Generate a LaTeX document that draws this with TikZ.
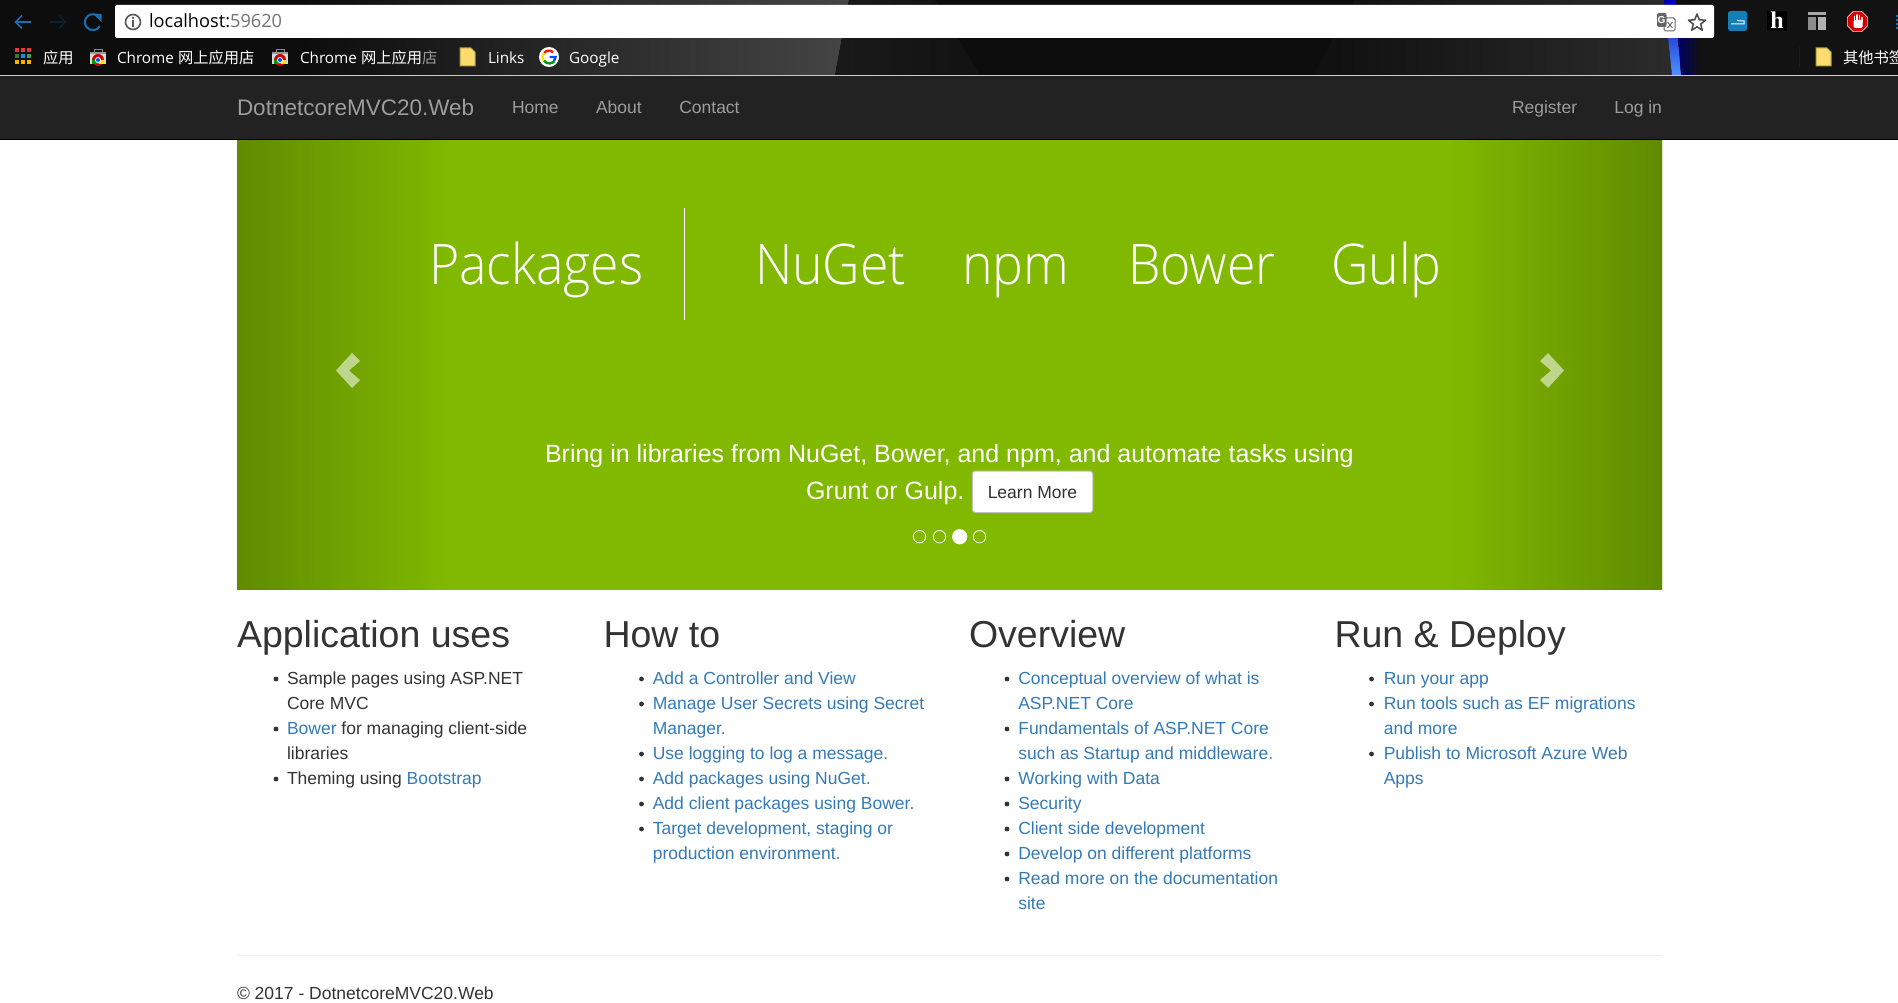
\documentclass[tikz,border=0pt]{standalone}
\usepackage{fontspec}
\setmainfont{Liberation Sans}
\newfontfamily\cjk{Noto Sans CJK SC}
\newfontfamily\uifont{Open Sans}
\newfontfamily\lightfont{Open Sans Light}
\newfontfamily\slabfont{Liberation Serif}
\usetikzlibrary{shapes.geometric}
\definecolor{linkblue}{HTML}{337AB7}
\definecolor{textgrey}{HTML}{333333}
\definecolor{navbg}{HTML}{222222}
\definecolor{navtext}{HTML}{9D9D9D}
\definecolor{bannergreen}{HTML}{80B900}
\definecolor{banneredge}{HTML}{608B00}
\definecolor{arrowblue}{HTML}{1670B0}
\tikzset{
  txt/.style={anchor=base west,inner sep=0pt,outer sep=0pt},
  bodytext/.style={txt,text=textgrey,font=\fontsize{17.5}{20}\selectfont},
  linktext/.style={bodytext,text=linkblue},
  headtext/.style={txt,text=textgrey,font=\fontsize{37.5}{40}\selectfont},
  navlink/.style={txt,text=navtext,font=\fontsize{17.5}{20}\selectfont},
  bookmark/.style={txt,text=white,font=\uifont\fontsize{15.3}{18}\selectfont},
  bigword/.style={txt,text=white,font=\lightfont\fontsize{56}{60}\selectfont,xscale=.925,transform shape},
  capt/.style={txt,text=white,font=\fontsize{25}{28}\selectfont},
  pics/storeicon/.style={code={
    \fill[white!85!black] (0,3) rectangle (16,15);
    \draw[white!55!black,line width=1pt] (4,3) -- (4,1) -- (12,1) -- (12,3);
    \fill[white!60!black] (0,3) rectangle (16,5);
    \fill[red!80!black] (8,11) circle[radius=6pt];
    \fill[green!60!black] (2,11) rectangle (14,15);
    \fill[yellow!85!orange] (8,11) -- (14,11) -- (14,15) -- (9,15) -- cycle;
    \fill[white] (8,11) circle[radius=3pt];
    \fill[blue!70!cyan] (8,11) circle[radius=2pt];
  }},
  pics/foldericon/.style={code={
    \fill[yellow!55!orange!55!white,draw=yellow!60!black,line width=1pt] (0,0) -- (11,0) -- (15,4) -- (15,18) -- (0,18) -- cycle;
  }}
}
\newcommand\listdot[2]{\fill[textgrey] (#1,#2) circle[radius=2.4pt];}
\begin{document}
\begin{tikzpicture}[x=1pt,y=-1pt]
\useasboundingbox (0,0) rectangle (1898,1003);
% browser chrome background
\fill[black!95!white] (0,0) rectangle (1898,75);
\shade[left color=black!95!white,right color=black!73!white] (300,0) -- (849,0) -- (835,75) -- (300,75) -- cycle;
\shade[left color=black!90!white,right color=black!93!white] (849,0) -- (935,0) -- (980,75) -- (835,75) -- cycle;
\shade[left color=black!94!white,right color=black!83!white] (1355,0) -- (1664,0) -- (1672,75) -- (1313,75) -- cycle;
\shade[top color=blue!70!black,bottom color=blue!60!cyan!70!white] (1664,0) -- (1676,0) -- (1681,75) -- (1672,75) -- cycle;
\shade[left color=blue!40!black,right color=black!93!white] (1678,38) -- (1700,38) -- (1700,75) -- (1681,75) -- cycle;
\fill[black!93!white] (1700,0) rectangle (1898,75);
\fill[white,rounded corners=2pt] (115,5) rectangle (1714,38);
\fill[white!80!black] (0,75) rectangle (1898,76.5);
% toolbar icons
\draw[arrowblue,line width=1.6pt] (31,22) -- (16,22) (22,15.5) -- (15.5,22) -- (22,28.5);
\draw[arrowblue!30!black,line width=1.6pt] (50,22) -- (65,22) (59,15.5) -- (65.5,22) -- (59,28.5);
\draw[arrowblue,line width=2pt] (99,17) arc[start angle=40,end angle=330,radius=8pt];
\fill[arrowblue] (93,14) -- (101.5,14) -- (101.5,22) -- cycle;
\draw[black!65!white,line width=1.6pt] (133,22) circle[radius=7.5pt];
\fill[black!65!white] (132.2,20) rectangle (133.8,27) (132.2,17) rectangle (133.8,18.6);
\node[txt,font=\uifont\fontsize{18.2}{20}\selectfont,text=black] (urlhost) at (149,28) {localhost:\textcolor{black!55!white}{59620}};
\draw[black!60!white,fill=white,rounded corners=1.5pt,line width=1pt] (1664,18) rectangle (1675,31);
\fill[black!60!white,rounded corners=2pt] (1657,13) rectangle (1666.5,27);
\node[anchor=base,inner sep=0pt,text=white,font=\bfseries\fontsize{10}{10}\selectfont] (transg) at (1661.5,24) {G};
\draw[black!60!white,line width=.9pt] (1667.5,22) -- (1672.5,28) (1672.5,22) -- (1667.5,28);
\draw[black!70!white,line width=1.5pt,line join=round] (1697,14) -- (1699.3,19.8) -- (1705.5,20.2) -- (1700.7,24.2) -- (1702.3,30.2) -- (1697,26.8) -- (1691.7,30.2) -- (1693.3,24.2) -- (1688.5,20.2) -- (1694.7,19.8) -- cycle;
% extension icons
\fill[arrowblue!90!cyan,rounded corners=2.5pt] (1728,11) rectangle (1747,31);
\draw[white,line width=1pt] (1731,24) -- (1744,24) -- (1744,21) -- (1739,21) -- (1737,20);
\fill[black] (1767,11) rectangle (1787,31);
\node[anchor=base,inner sep=0pt,text=white,font=\slabfont\bfseries\fontsize{24}{24}\selectfont] (hicon) at (1777,29) {h};
\fill[black!35!white] (1808,12.5) rectangle (1826,15);
\fill[black!45!white] (1808,17) rectangle (1816,30);
\fill[black!30!white] (1818,17) rectangle (1826,30);
\node[regular polygon,regular polygon sides=8,fill=red!85!black,draw=white!80!red,line width=0.6pt,minimum size=22pt,inner sep=0pt] (stopicon) at (1857.5,21.5) {};
\fill[white,rounded corners=1.5pt] (1853.5,20) rectangle (1862.5,28);
\draw[white,line width=1.6pt,line cap=round] (1854.5,21) -- (1854.5,16.5) (1857,21) -- (1857,15) (1859.5,21) -- (1859.5,15.5) (1862,22) -- (1862,17.5);
\draw[arrowblue,line width=2pt,dotted] (1897,15) -- (1897,29);
% bookmarks bar
\foreach \gx/\cola/\colb/\colc in {0/E53935/2E7D32/FBB000,6/E53935/1E88E5/FBB000,12/E53935/43A047/FBB000}{
  \definecolor{ca}{HTML}{\cola}\definecolor{cb}{HTML}{\colb}\definecolor{cc}{HTML}{\colc}
  \fill[ca] (15+\gx,48) rectangle ++(4,4);
  \fill[cb] (15+\gx,54) rectangle ++(4,4);
  \fill[cc] (15+\gx,60) rectangle ++(4,4);
}
\node[bookmark] (bmapps) at (43,64) {\cjk 应用};
\pic at (90,49) {storeicon};
\node[bookmark] (bmstorea) at (117,64) {Chrome {\cjk 网上应用店}};
\pic at (272,49) {storeicon};
\node[bookmark] (bmstoreb) at (300,64) {Chrome {\cjk 网上应用\textcolor{white!60!black}{店}}};
\pic at (460,48) {foldericon};
\node[bookmark] (bmlinks) at (488,64) {Links};
\fill[white] (549,57) circle[radius=10pt];
\draw[red!80!orange,line width=2.4pt] (544,53) arc[start angle=140,end angle=50,radius=6.5pt];
\draw[yellow!85!orange,line width=2.4pt] (544,53) arc[start angle=140,end angle=215,radius=6.5pt];
\draw[green!60!black,line width=2.4pt] (544,60.7) arc[start angle=215,end angle=320,radius=6.5pt];
\draw[blue!70!cyan,line width=2.4pt] (554,61.2) arc[start angle=320,end angle=360,radius=6.5pt] -- (549.5,57);
\node[bookmark] (bmgoogle) at (569,64) {Google};
\fill[arrowblue!30!black] (1798.6,47) rectangle (1799.6,67);
\pic at (1816,48) {foldericon};
\node[bookmark] (bmother) at (1843,64) {\cjk 其他书签};
% banner
\begin{scope}
  \clip (237,140) rectangle (1662,589);
  \fill[bannergreen] (230,130) rectangle (1670,600);
  \shade[left color=banneredge,right color=bannergreen] (237,130) rectangle (451,600);
  \shade[left color=bannergreen,right color=banneredge] (1448,130) rectangle (1662,600);
\end{scope}
% navbar
\fill[navbg] (0,76.5) rectangle (1898,140);
\fill[black] (0,139) rectangle (1898,140);
\node[navlink,font=\fontsize{22.5}{24}\selectfont] (brand) at (237,115.5) {DotnetcoreMVC20.Web};
\node[navlink] (navhome) at (512,113.5) {Home};
\node[navlink] (navabout) at (596,113.5) {About};
\node[navlink] (navcontact) at (679.3,113.5) {Contact};
\node[navlink] (navregister) at (1512,113.5) {Register};
\node[navlink] (navlogin) at (1614.3,113.5) {Log in};
% banner content
\node[bigword] (wpackages) at (429,284) {Packages};
\fill[white] (683.5,208) rectangle (685,320);
\node[bigword] (wnuget) at (755,284) {NuGet};
\node[bigword] (wnpm) at (962,284) {npm};
\node[bigword] (wbower) at (1128,284) {Bower};
\node[bigword] (wgulp) at (1331,284) {Gulp};
\fill[white,opacity=.55] (336,370.5) -- (352,353) -- (360,361) -- (349,370.5) -- (360,380) -- (352,388) -- cycle;
\fill[white,opacity=.55] (1564,370.5) -- (1548,353) -- (1540,361) -- (1551,370.5) -- (1540,380) -- (1548,388) -- cycle;
\node[capt] (captiona) at (545,462) {Bring in libraries from NuGet, Bower, and npm, and automate tasks using};
\node[capt] (captionb) at (806,499) {Grunt or Gulp.};
\node[draw=black!25!white,fill=white,rounded corners=3pt,line width=1pt,inner sep=0pt,minimum width=120.5pt,minimum height=41.5pt,anchor=center] (learnbox) at (1032.5,491.8) {};
\node[bodytext,anchor=base] (learn) at (1032.5,498) {Learn More};
\draw[white,line width=.8pt] (919.5,536.7) circle[radius=6.2pt];
\draw[white,line width=.8pt] (939.5,536.7) circle[radius=6.2pt];
\fill[white] (959.7,536.7) circle[radius=7.6pt];
\draw[white,line width=.8pt] (979.5,536.7) circle[radius=6.2pt];
% headings
\node[headtext] (h1) at (237,647) {Application uses};
\node[headtext] (h2) at (603.5,647) {How to};
\node[headtext] (h3) at (969,647) {Overview};
\node[headtext] (h4) at (1334.5,647) {Run \& Deploy};
% column 1
\listdot{276}{679}\listdot{276}{729}\listdot{276}{779}
\node[bodytext] (aa) at (287,684.8) {Sample pages using ASP.NET};
\node[bodytext] (ab) at (287,709.8) {Core MVC};
\node[bodytext] (ac) at (287,734.8) {\textcolor{linkblue}{Bower} for managing client-side};
\node[bodytext] (ad) at (287,759.8) {libraries};
\node[bodytext] (ae) at (287,784.8) {Theming using \textcolor{linkblue}{Bootstrap}};
% column 2
\listdot{641.5}{679}\listdot{641.5}{704}\listdot{641.5}{754}\listdot{641.5}{779}\listdot{641.5}{804}\listdot{641.5}{829}
\node[linktext] (ba) at (652.8,684.8) {Add a Controller and View};
\node[linktext] (bb) at (652.8,709.8) {Manage User Secrets using Secret};
\node[linktext] (bc) at (652.8,734.8) {Manager.};
\node[linktext] (bd) at (652.8,759.8) {Use logging to log a message.};
\node[linktext] (be) at (652.8,784.8) {Add packages using NuGet.};
\node[linktext] (bf) at (652.8,809.8) {Add client packages using Bower.};
\node[linktext] (bg) at (652.8,834.8) {Target development, staging or};
\node[linktext] (bh) at (652.8,859.8) {production environment.};
% column 3
\listdot{1007}{679}\listdot{1007}{729}\listdot{1007}{779}\listdot{1007}{804}\listdot{1007}{829}\listdot{1007}{854}\listdot{1007}{879}
\node[linktext] (ca) at (1018.3,684.8) {Conceptual overview of what is};
\node[linktext] (cb) at (1018.3,709.8) {ASP.NET Core};
\node[linktext] (cc) at (1018.3,734.8) {Fundamentals of ASP.NET Core};
\node[linktext] (cd) at (1018.3,759.8) {such as Startup and middleware.};
\node[linktext] (ce) at (1018.3,784.8) {Working with Data};
\node[linktext] (cf) at (1018.3,809.8) {Security};
\node[linktext] (cg) at (1018.3,834.8) {Client side development};
\node[linktext] (ch) at (1018.3,859.8) {Develop on different platforms};
\node[linktext] (ci) at (1018.3,884.8) {Read more on the documentation};
\node[linktext] (cj) at (1018.3,909.8) {site};
% column 4
\listdot{1371.5}{679}\listdot{1371.5}{704}\listdot{1371.5}{754}
\node[linktext] (da) at (1383.8,684.8) {Run your app};
\node[linktext] (db) at (1383.8,709.8) {Run tools such as EF migrations};
\node[linktext] (dc) at (1383.8,734.8) {and more};
\node[linktext] (dd) at (1383.8,759.8) {Publish to Microsoft Azure Web};
\node[linktext] (de) at (1383.8,784.8) {Apps};
% footer
\fill[white!93!black] (237,955) rectangle (1662,956.3);
\node[bodytext] (copyright) at (237,999) {© 2017 - DotnetcoreMVC20.Web};
\end{tikzpicture}
\end{document}
